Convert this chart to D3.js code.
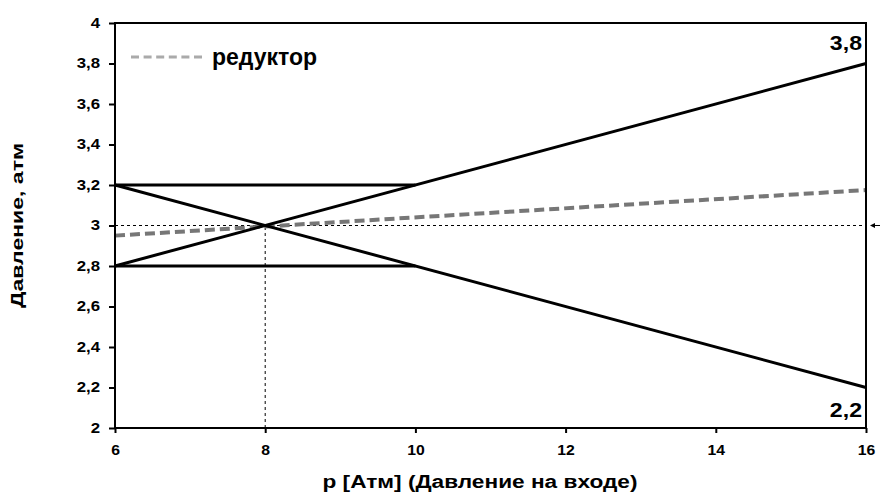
<!DOCTYPE html>
<html><head><meta charset="utf-8">
<script src="https://cdn.jsdelivr.net/npm/d3@7"></script>
<style>body{margin:0;background:#fff}svg{display:block}text{font-family:"Liberation Sans",Arial,sans-serif;font-weight:bold}</style>
</head><body><svg id="c" width="880" height="496"></svg>
<script>
const xTicks = [6, 8, 10, 12, 14, 16];
const yTicks = [2, 2.2, 2.4, 2.6, 2.8, 3, 3.2, 3.4, 3.6, 3.8, 4];
const upperBand = [[6, 3.2], [10, 3.2]];
const lowerBand = [[6, 2.8], [10, 2.8]];
const risingLine = [[6, 2.8], [16, 3.8]];
const fallingLine = [[6, 3.2], [16, 2.2]];
const reducerLine = [[6, 2.95], [16, 3.175]];
const refH = [[6, 3], [16, 3]];
const refV = [[8, 2], [8, 3]];
const endLabels = [{x: 16, y: 3.8, t: "3,8"}, {x: 16, y: 2.2, t: "2,2"}];
const legendLabel = "редуктор";
const xTitle = "p [Атм] (Давление на входе)";
const yTitle = "Давление, атм";

const svg = d3.select("#c");
const L = 115, R = 866, T = 23, B = 428;
const x = d3.scaleLinear().domain([6, 16]).range([L, R]);
const y = d3.scaleLinear().domain([2, 4]).range([B, T]);
const fmt = d => String(d).replace(".", ",");
function stretch(sel, k) {
  sel.each(function () {
    const w = this.getComputedTextLength();
    this.setAttribute("textLength", w * k);
    this.setAttribute("lengthAdjust", "spacingAndGlyphs");
  });
}

// axes
const ya = svg.append("g").attr("transform", `translate(${L},0)`)
  .call(d3.axisLeft(y).tickValues(yTicks).tickFormat(fmt).tickSize(6).tickPadding(9));
const xa = svg.append("g").attr("transform", `translate(0,${B})`)
  .call(d3.axisBottom(x).tickValues(xTicks).tickFormat(fmt).tickSize(5).tickPadding(11));
[ya, xa].forEach(g => {
  g.select(".domain").remove();
  g.selectAll("line").attr("stroke", "#000").attr("stroke-width", 2);
  g.selectAll("text").attr("fill", "#000");
});
ya.selectAll("text").attr("font-size", 14).attr("dy", "0.3em");
xa.selectAll("text").attr("font-size", 15);
stretch(ya.selectAll("text"), 1.2);
stretch(xa.selectAll("text"), 1.05);

const line = d3.line().x(d => x(d[0])).y(d => y(d[1]));

// reference dashed
[refH, refV].forEach(d => svg.append("path").attr("d", line(d)).attr("fill", "none")
  .attr("stroke", "#000").attr("stroke-width", 1).attr("stroke-dasharray", "3,3"));

// arrow at right
svg.append("path").attr("d", `M${R + 9},${y(3) - 2.5}L${R + 9},${y(3) + 2.5}L${R + 4},${y(3)}Z`).attr("fill", "#000");
svg.append("line").attr("x1", R + 8).attr("x2", R + 14).attr("y1", y(3)).attr("y2", y(3)).attr("stroke", "#000").attr("stroke-width", 1);

// reducer
svg.append("path").attr("d", line(reducerLine)).attr("fill", "none")
  .attr("stroke", "#777").attr("stroke-width", 4).attr("stroke-dasharray", "10,5");

// solid lines
[upperBand, lowerBand, risingLine, fallingLine].forEach(d => svg.append("path").attr("d", line(d))
  .attr("fill", "none").attr("stroke", "#000").attr("stroke-width", 3));

// frame
svg.append("rect").attr("x", L).attr("y", T).attr("width", R - L).attr("height", B - T)
  .attr("fill", "none").attr("stroke", "#000").attr("stroke-width", 2);

// end labels
endLabels.forEach(e => {
  const t = svg.append("text").attr("x", x(e.x) - 4)
    .attr("y", e.y > 3 ? 50 : 417).attr("text-anchor", "end")
    .attr("font-size", 21).text(e.t);
  stretch(t, 1.1);
});

// legend
svg.append("line").attr("x1", 131).attr("x2", 203).attr("y1", 57).attr("y2", 57)
  .attr("stroke", "#aaa").attr("stroke-width", 3).attr("stroke-dasharray", "8,4.6");
svg.append("text").attr("x", 212).attr("y", 65).attr("font-size", 23).text(legendLabel);

// titles
const xt = svg.append("text").attr("x", 480).attr("y", 488).attr("text-anchor", "middle").attr("font-size", 18).text(xTitle);
xt.attr("textLength", 315).attr("lengthAdjust", "spacingAndGlyphs");
const yt = svg.append("text").attr("transform", `translate(23,225.5) rotate(-90)`).attr("text-anchor", "middle").attr("font-size", 17).text(yTitle);
yt.attr("textLength", 165).attr("lengthAdjust", "spacingAndGlyphs");
</script></body></html>
